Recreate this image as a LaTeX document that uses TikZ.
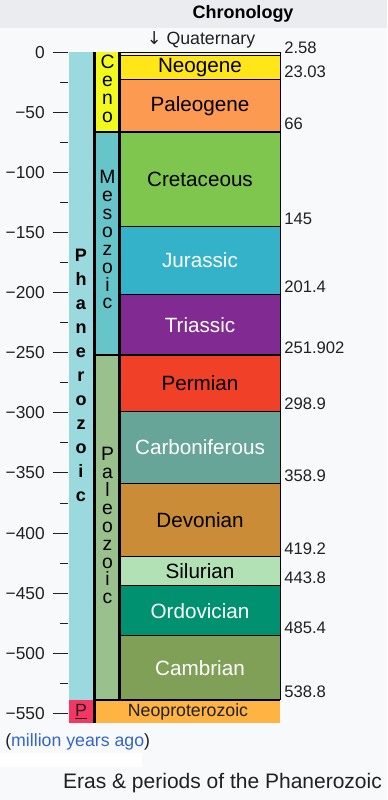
\documentclass[tikz,border=0pt]{standalone}
\usepackage{fontspec}
\setmainfont{Liberation Sans}
\newfontfamily\arrowfont{DejaVu Sans}
\usepackage{xcolor}

\definecolor{bg}{HTML}{F8F9FA}
\definecolor{head}{HTML}{EAECF0}
\definecolor{ink}{HTML}{202122}
\definecolor{linkblue}{HTML}{3366CC}
\definecolor{phanerozoic}{HTML}{9AD9DD}
\definecolor{proterozoic}{HTML}{F73563}
\definecolor{neoproterozoic}{HTML}{FEB342}
\definecolor{cenozoic}{HTML}{F2F91D}
\definecolor{mesozoic}{HTML}{67C5CA}
\definecolor{paleozoic}{HTML}{99C08D}
\definecolor{quaternary}{HTML}{F9F97F}
\definecolor{neogene}{HTML}{FFE619}
\definecolor{paleogene}{HTML}{FD9A52}
\definecolor{cretaceous}{HTML}{7FC64E}
\definecolor{jurassic}{HTML}{34B2C9}
\definecolor{triassic}{HTML}{812B92}
\definecolor{permian}{HTML}{F04028}
\definecolor{carboniferous}{HTML}{67A599}
\definecolor{devonian}{HTML}{CB8C37}
\definecolor{silurian}{HTML}{B3E1B6}
\definecolor{ordovician}{HTML}{009270}
\definecolor{cambrian}{HTML}{7FA056}

\begin{document}
\begin{tikzpicture}[x=0.75pt, y=-0.75pt,
    period/.style = {draw, line width=0.75pt},
    periodname/.style = {font=\fontsize{15.5}{18}\selectfont},
    datelabel/.style = {anchor=base west, inner sep=0pt, text=ink, yshift=1.5pt, font=\fontsize{12.5}{15}\selectfont},
    ticklabel/.style = {anchor=east, inner sep=0pt, text=ink, font=\fontsize{13}{15}\selectfont},
    eraname/.style = {align=center, inner sep=0pt, font=\fontsize{14.5}{13.4}\selectfont},
    smalltext/.style = {text=ink, font=\fontsize{13.3}{16}\selectfont}]
    \useasboundingbox (0,0) rectangle (387,800);
    \fill[bg] (0,0) rectangle (387,800);
    \fill[head] (0,0) rectangle (387,28);
    \node[font=\bfseries\fontsize{13.5}{16}\selectfont] (title) at (243,14) {Chronology};
    \node[smalltext] (quat) at (201,39.5) {{\arrowfont↓} Quaternary};

    \begin{scope}[shift={(0,52.3)}, y=-0.9014pt]
        % eons and eras
        \fill[phanerozoic] (69,0) rectangle (93,538.8);
        \fill[proterozoic] (69,538.8) rectangle (93,557.8);
        \fill[cenozoic] (96,0) rectangle (119.5,66);
        \fill[mesozoic] (96,66) rectangle (119.5,251.902);
        \fill[paleozoic] (96,251.902) rectangle (119.5,538.8);
        \fill[neoproterozoic] (96,538.8) rectangle (280,557.8);

        % periods
        \draw[period, fill=quaternary] (120,0) rectangle (280,2.58);
        \foreach \a/\b/\per/\col/\txt in {
            2.58/23.03/Neogene/neogene/black,
            23.03/66/Paleogene/paleogene/black,
            66/145/Cretaceous/cretaceous/black,
            145/201.4/Jurassic/jurassic/white,
            201.4/251.902/Triassic/triassic/white,
            251.902/298.9/Permian/permian/black,
            298.9/358.9/Carboniferous/carboniferous/white,
            358.9/419.2/Devonian/devonian/black,
            419.2/443.8/Silurian/silurian/black,
            443.8/485.4/Ordovician/ordovician/white,
            485.4/538.8/Cambrian/cambrian/white} {
            \draw[period, fill=\col] (120,\a) rectangle (280,\b);
            \node[periodname, text=\txt] (\per) at (200,{(\a+\b)/2}) {\per};
        }
        \foreach \d [count=\i] in {2.58,23.03,66,145,201.4,251.902,298.9,358.9,419.2,443.8,485.4,538.8}
            \node[datelabel] (date\i) at (284,\d) {\d};

        % borders
        \foreach \b in {66,251.902,538.8}
            \draw[line width=1.5pt] (93,\b) -- (280,\b);
        \draw[line width=2.25pt] (94.5,0) -- (94.5,557.8);
        \draw[line width=1.5pt] (119.3,0) -- (119.3,538.8);

        \node[eraname] (ceno) at (107.5,30.5) {C\\e\\n\\o};
        \node[eraname] (meso) at (107.5,156) {M\\e\\s\\o\\z\\o\\i\\c};
        \node[eraname] (paleo) at (107.5,394) {P\\a\\l\\e\\o\\z\\o\\i\\c};
        \node[eraname, font=\bfseries\fontsize{13.5}{18}\selectfont] (phanero) at (81,269) {P\\h\\a\\n\\e\\r\\o\\z\\o\\i\\c};
        \node[smalltext] (pro) at (81,548.5) {\underline{P}};
        \node[smalltext] (neopro) at (188,548.5) {Neoproterozoic};

        % axis
        \foreach \t in {0,50,...,550} {
            \draw[ink, line width=0.75pt] (53,\t) -- (68,\t);
            \node[ticklabel] (tick\t) at (45,\t) {\ifnum\t=0 0\else −\t\fi};
        }
        \foreach \t in {25,75,...,525}
            \draw[ink, line width=0.75pt] (60,\t) -- (68,\t);
    \end{scope}

    \node[smalltext, anchor=west, inner sep=0pt] (unit) at (5,742) {(\textcolor{linkblue}{million years ago})};
    \fill[white] (0,753) rectangle (142,767);
    \node[text=ink, font=\fontsize{15.75}{18}\selectfont] (caption) at (222.5,783) {Eras \& periods of the Phanerozoic};
\end{tikzpicture}
\end{document}
